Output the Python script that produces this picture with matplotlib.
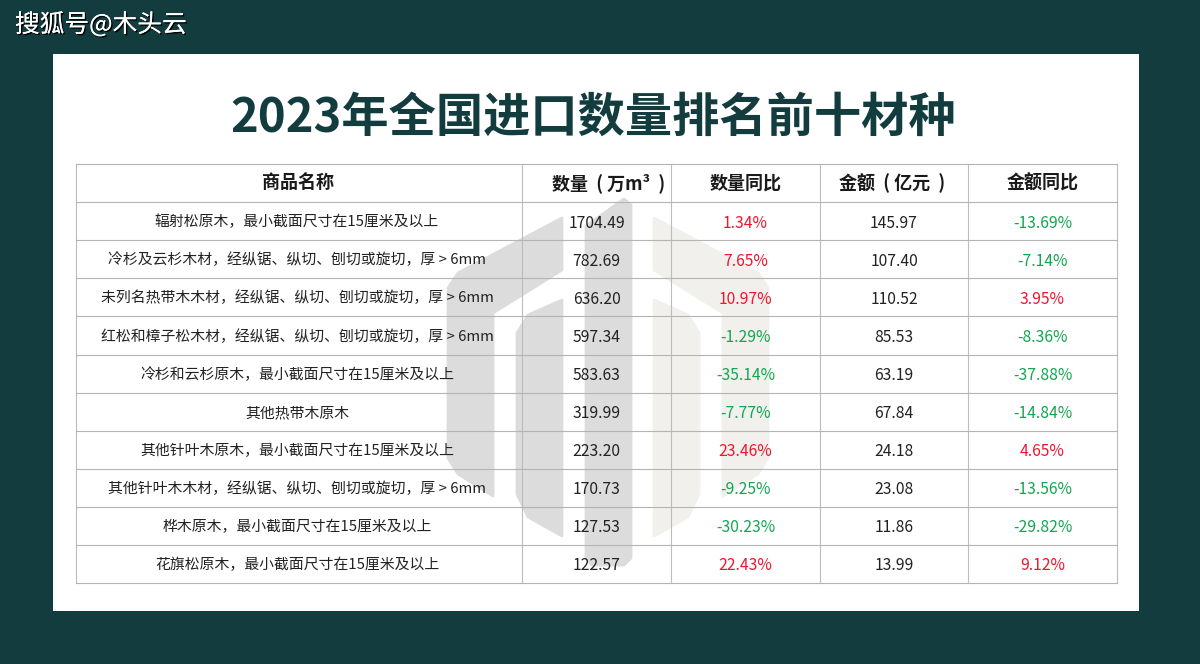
import matplotlib
matplotlib.use("Agg")
import matplotlib.pyplot as plt
import matplotlib.patheffects as pe
from matplotlib.patches import Polygon, Rectangle

plt.rcParams['font.family'] = ['Noto Sans CJK SC', 'DejaVu Sans']

# table contents
headers = ["商品名称", "数量  ( 万m³  )", "数量同比", "金额  ( 亿元  )", "金额同比"]
names = [
    "辐射松原木，最小截面尺寸在15厘米及以上",
    "冷杉及云杉木材，经纵锯、纵切、刨切或旋切，厚 > 6mm",
    "未列名热带木木材，经纵锯、纵切、刨切或旋切，厚 > 6mm",
    "红松和樟子松木材，经纵锯、纵切、刨切或旋切，厚 > 6mm",
    "冷杉和云杉原木，最小截面尺寸在15厘米及以上",
    "其他热带木原木",
    "其他针叶木原木，最小截面尺寸在15厘米及以上",
    "其他针叶木木材，经纵锯、纵切、刨切或旋切，厚 > 6mm",
    "桦木原木，最小截面尺寸在15厘米及以上",
    "花旗松原木，最小截面尺寸在15厘米及以上",
]
quantity = [1704.49, 782.69, 636.20, 597.34, 583.63, 319.99, 223.20, 170.73, 127.53, 122.57]
quantity_yoy = [1.34, 7.65, 10.97, -1.29, -35.14, -7.77, 23.46, -9.25, -30.23, 22.43]
amount = [145.97, 107.40, 110.52, 85.53, 63.19, 67.84, 24.18, 23.08, 11.86, 13.99]
amount_yoy = [-13.69, -7.14, 3.95, -8.36, -37.88, -14.84, 4.65, -13.56, -29.82, 9.12]

BG = "#133c3f"
RED = "#f0142d"
GREEN = "#12a650"
TEXT = "#222222"

col_edges = [76, 522, 671, 820, 968, 1117]
row_edges = [164, 202, 240, 278, 316, 355, 393, 431, 469, 507, 545, 583]


def yoy_color(v):
    return RED if v > 0 else GREEN


fig = plt.figure(figsize=(12, 6.64), dpi=100, facecolor=BG)
ax = fig.add_axes([0, 0, 1, 1])
ax.set_xlim(0, 1200)
ax.set_ylim(664, 0)
ax.axis("off")

# white panel
ax.add_patch(Rectangle((53, 54), 1086, 557, fc="white", ec="none", zorder=1))

# watermark logo behind the table
grey = "#dcdcdc"
light = "#f1f0ed"
outer_left = [(562, 218), (562, 270), (493, 313), (493, 496), (458, 474), (448, 458), (448, 288), (458, 273)]
inner_left = [(562, 300), (562, 536), (528, 517), (517, 494), (517, 333), (528, 315)]
centre = [(586, 226), (624, 199), (631, 205), (631, 558), (624, 565), (592, 565), (586, 558)]
for pts, c in [(outer_left, grey), (inner_left, grey), (centre, grey)]:
    ax.add_patch(Polygon(pts, fc=c, ec=c, lw=2, joinstyle="round", zorder=2))
for pts in (outer_left, inner_left):
    mirrored = [(1216 - x, y) for x, y in pts]
    ax.add_patch(Polygon(mirrored, fc=light, ec=light, lw=2, joinstyle="round", zorder=2))

# grid
for x in col_edges:
    ax.plot([x, x], [row_edges[0], row_edges[-1]], color="#bcbcbc", lw=0.8, zorder=3)
for y in row_edges:
    ax.plot([col_edges[0], col_edges[-1]], [y, y], color="#b4b4b4", lw=0.8, zorder=3)

col_mid = [(a + b) / 2 for a, b in zip(col_edges[:-1], col_edges[1:])]
row_mid = [(a + b) / 2 for a, b in zip(row_edges[:-1], row_edges[1:])]

header_x = [col_mid[0] - 1, col_mid[1] + 12, col_mid[2], col_mid[3] - 2, col_mid[4]]
for x, h in zip(header_x, headers):
    ax.text(x, row_mid[0], h, ha="center", va="center", fontsize=13,
            fontweight="bold", color="#1a1a1a", zorder=4)

for i, y in enumerate(row_mid[1:]):
    ax.text(col_mid[0] - 2, y + 1, names[i], ha="center", va="center", fontsize=10.7, color=TEXT, zorder=4)
    ax.text(col_mid[1], y + 2, f"{quantity[i]:.2f}", ha="center", va="center", fontsize=11.3, color=TEXT, zorder=4)
    ax.text(col_mid[2], y + 2, f"{quantity_yoy[i]:.2f}%", ha="center", va="center", fontsize=11.3,
            color=yoy_color(quantity_yoy[i]), zorder=4)
    ax.text(col_mid[3], y + 2, f"{amount[i]:.2f}", ha="center", va="center", fontsize=11.3, color=TEXT, zorder=4)
    ax.text(col_mid[4], y + 2, f"{amount_yoy[i]:.2f}%", ha="center", va="center", fontsize=11.3,
            color=yoy_color(amount_yoy[i]), zorder=4)

# title and site mark
ax.text(593, 118, "2023年全国进口数量排名前十材种", ha="center", va="center", fontsize=34,
        fontweight="bold", color=BG, zorder=4)
ax.text(15, 25, "搜狐号@木头云", ha="left", va="center", fontsize=17.8, color="white", zorder=4,
        path_effects=[pe.withSimplePatchShadow(offset=(1, -1), shadow_rgbFace="black", alpha=1), pe.Normal()])

fig.savefig("out.png", dpi=100, facecolor=BG)
